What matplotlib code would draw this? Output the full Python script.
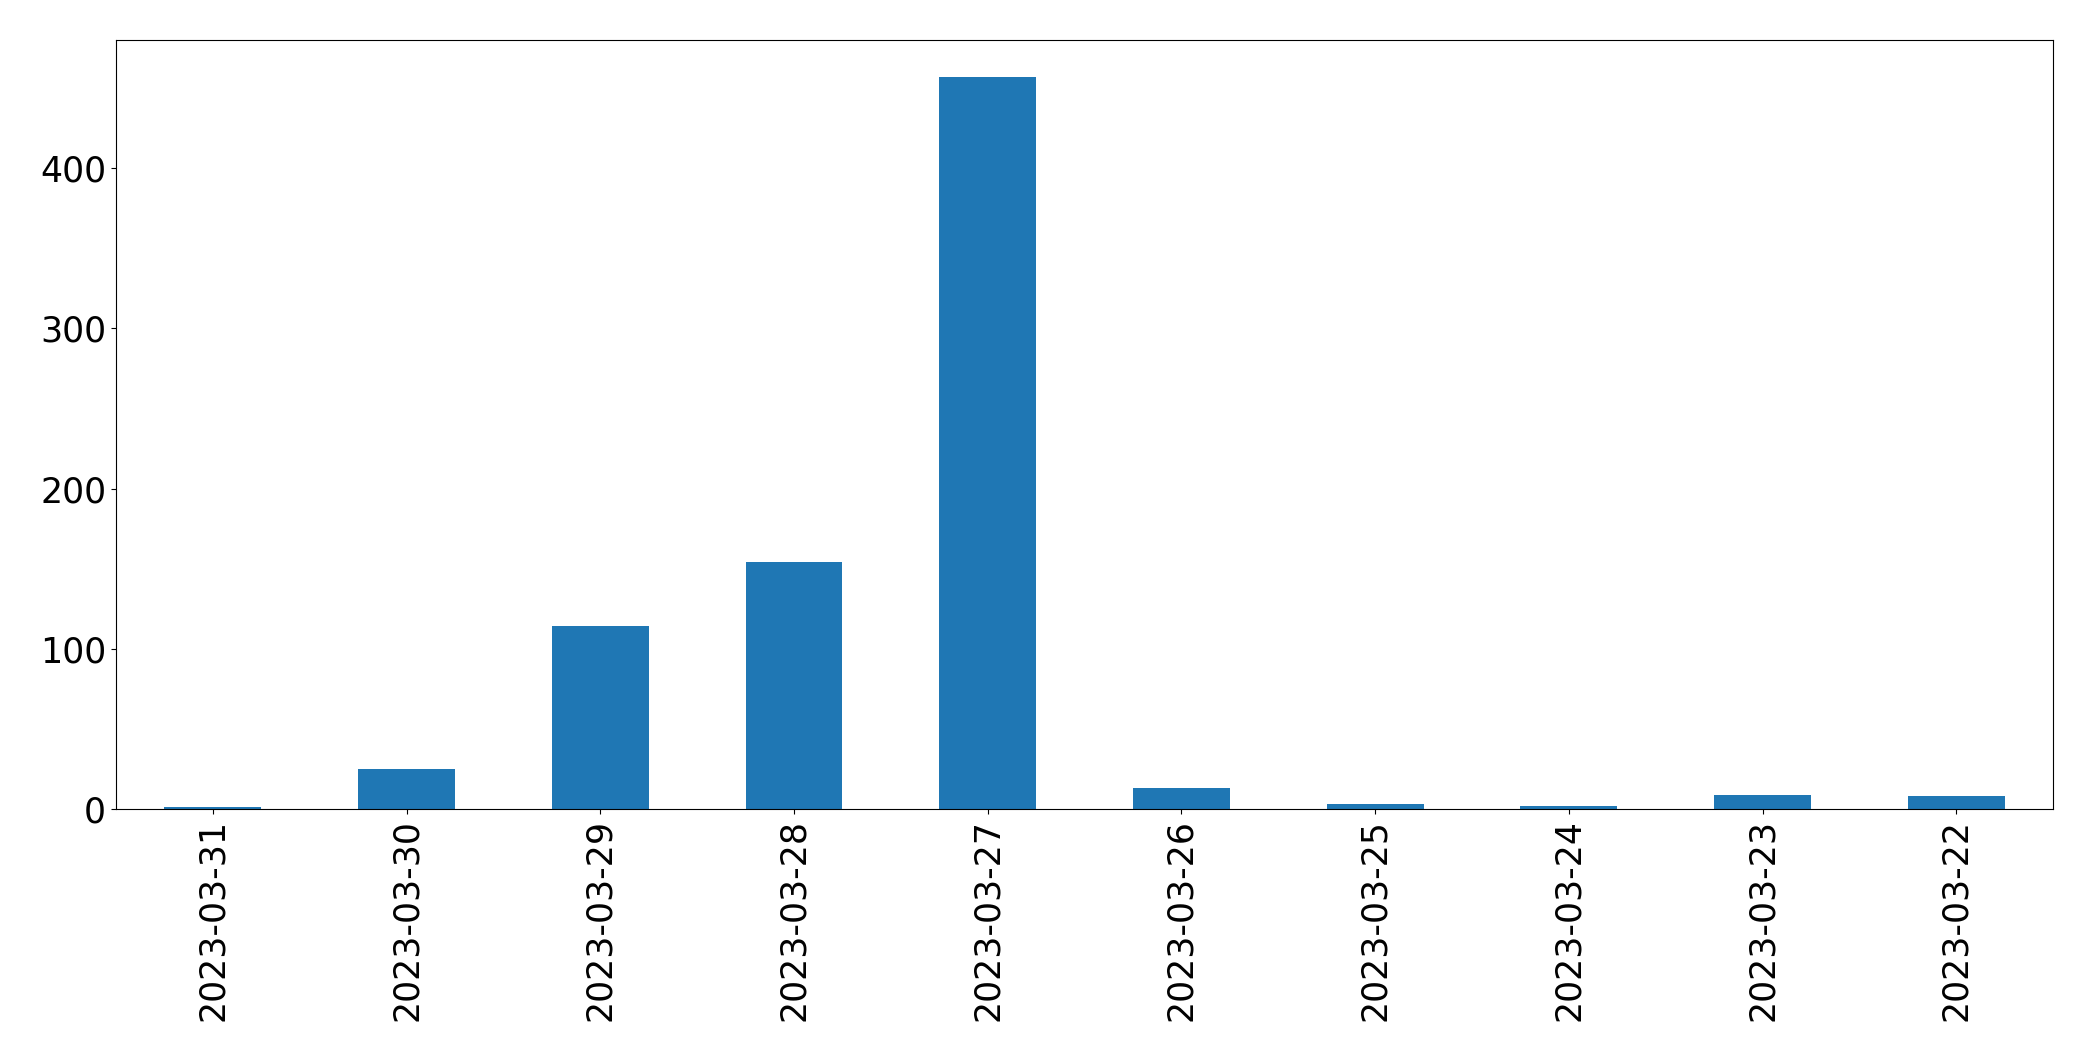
import matplotlib
matplotlib.use("Agg")
import matplotlib.pyplot as plt
import pandas as pd

dates = ["2023-03-31", "2023-03-30", "2023-03-29", "2023-03-28", "2023-03-27",
         "2023-03-26", "2023-03-25", "2023-03-24", "2023-03-23", "2023-03-22"]
counts = [1, 25, 114, 154, 457, 13, 3, 2, 9, 8]

s = pd.Series(counts, index=dates)

fig = plt.figure(figsize=(20.93, 10.61), dpi=100)
ax = fig.add_axes([0.0554, 0.2375, 0.9256, 0.7245])
s.plot(kind="bar", ax=ax, color="#1f77b4", width=0.5)
ax.tick_params(axis="both", labelsize=25, colors="black")
for sp in ax.spines.values():
    sp.set_color("black")
fig.savefig("out.png", dpi=100)
